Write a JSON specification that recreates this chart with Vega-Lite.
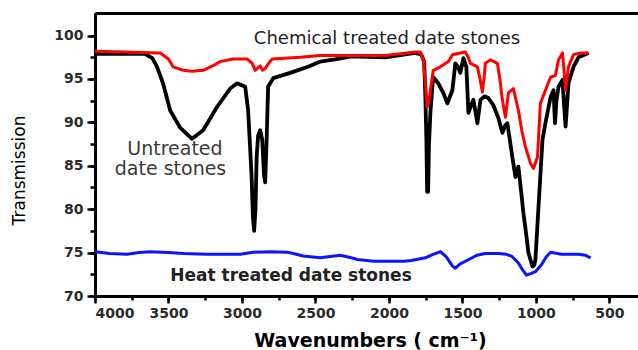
{
  "$schema": "https://vega.github.io/schema/vega-lite/v6.json",
  "width": 543,
  "height": 283,
  "autosize": {"type": "none"},
  "padding": {"left": 95, "top": 13, "right": 0, "bottom": 54},
  "background": "white",
  "config": {
    "view": {"stroke": null},
    "axis": {"grid": false, "domainColor": "black", "tickColor": "black", "domainWidth": 3, "tickWidth": 2.5, "labelFont": "DejaVu Sans", "labelFontWeight": "bold", "labelFontSize": 14, "labelColor": "#2b2b2b", "titleColor": "black"}
  },
  "datasets": {
    "spectra": [
      {"s":"Heat","w":4000,"t":75.1},{"s":"Heat","w":3900,"t":74.9},{"s":"Heat","w":3782,"t":74.8},{"s":"Heat","w":3700,"t":75.0},{"s":"Heat","w":3625,"t":75.1},{"s":"Heat","w":3500,"t":75.0},{"s":"Heat","w":3400,"t":74.9},{"s":"Heat","w":3237,"t":74.8},{"s":"Heat","w":3100,"t":74.8},{"s":"Heat","w":3012,"t":74.8},{"s":"Heat","w":2924,"t":75.05},{"s":"Heat","w":2800,"t":75.1},{"s":"Heat","w":2692,"t":75.05},{"s":"Heat","w":2630,"t":74.8},{"s":"Heat","w":2583,"t":74.6},{"s":"Heat","w":2467,"t":74.4},{"s":"Heat","w":2331,"t":74.7},{"s":"Heat","w":2256,"t":74.4},{"s":"Heat","w":2215,"t":74.2},{"s":"Heat","w":2100,"t":74.0},{"s":"Heat","w":2025,"t":74.0},{"s":"Heat","w":1900,"t":74.0},{"s":"Heat","w":1847,"t":74.1},{"s":"Heat","w":1752,"t":74.4},{"s":"Heat","w":1700,"t":74.8},{"s":"Heat","w":1650,"t":75.1},{"s":"Heat","w":1609,"t":74.5},{"s":"Heat","w":1570,"t":73.5},{"s":"Heat","w":1548,"t":73.2},{"s":"Heat","w":1515,"t":73.7},{"s":"Heat","w":1480,"t":74.0},{"s":"Heat","w":1400,"t":74.7},{"s":"Heat","w":1344,"t":74.9},{"s":"Heat","w":1255,"t":74.9},{"s":"Heat","w":1200,"t":74.8},{"s":"Heat","w":1166,"t":74.6},{"s":"Heat","w":1119,"t":73.8},{"s":"Heat","w":1090,"t":73.0},{"s":"Heat","w":1064,"t":72.4},{"s":"Heat","w":1030,"t":72.6},{"s":"Heat","w":1003,"t":72.8},{"s":"Heat","w":962,"t":73.6},{"s":"Heat","w":930,"t":74.5},{"s":"Heat","w":900,"t":75.05},{"s":"Heat","w":826,"t":74.8},{"s":"Heat","w":750,"t":74.8},{"s":"Heat","w":710,"t":74.8},{"s":"Heat","w":664,"t":74.7},{"s":"Heat","w":628,"t":74.4},

      {"s":"Untreated","w":4000,"t":97.9},{"s":"Untreated","w":3800,"t":97.9},{"s":"Untreated","w":3660,"t":97.9},{"s":"Untreated","w":3610,"t":97.4},{"s":"Untreated","w":3578,"t":96.4},{"s":"Untreated","w":3537,"t":94.5},{"s":"Untreated","w":3489,"t":91.4},{"s":"Untreated","w":3421,"t":89.4},{"s":"Untreated","w":3340,"t":88.1},{"s":"Untreated","w":3264,"t":89.1},{"s":"Untreated","w":3169,"t":91.8},{"s":"Untreated","w":3080,"t":93.9},{"s":"Untreated","w":3033,"t":94.5},{"s":"Untreated","w":2978,"t":94.1},{"s":"Untreated","w":2958,"t":91.4},{"s":"Untreated","w":2935,"t":84.0},{"s":"Untreated","w":2925,"t":79.0},{"s":"Untreated","w":2917,"t":77.5},{"s":"Untreated","w":2908,"t":80.0},{"s":"Untreated","w":2900,"t":86.0},{"s":"Untreated","w":2890,"t":88.5},{"s":"Untreated","w":2876,"t":89.1},{"s":"Untreated","w":2862,"t":88.0},{"s":"Untreated","w":2850,"t":84.0},{"s":"Untreated","w":2842,"t":83.1},{"s":"Untreated","w":2832,"t":88.0},{"s":"Untreated","w":2822,"t":94.1},{"s":"Untreated","w":2787,"t":95.1},{"s":"Untreated","w":2672,"t":95.7},{"s":"Untreated","w":2550,"t":96.4},{"s":"Untreated","w":2467,"t":97.0},{"s":"Untreated","w":2356,"t":97.3},{"s":"Untreated","w":2256,"t":97.6},{"s":"Untreated","w":2025,"t":97.5},{"s":"Untreated","w":1900,"t":97.8},{"s":"Untreated","w":1820,"t":98.0},{"s":"Untreated","w":1779,"t":97.8},{"s":"Untreated","w":1760,"t":97.0},{"s":"Untreated","w":1752,"t":93.0},{"s":"Untreated","w":1745,"t":88.0},{"s":"Untreated","w":1740,"t":82.0},{"s":"Untreated","w":1733,"t":82.0},{"s":"Untreated","w":1728,"t":87.2},{"s":"Untreated","w":1718,"t":91.0},{"s":"Untreated","w":1705,"t":94.0},{"s":"Untreated","w":1698,"t":95.2},{"s":"Untreated","w":1664,"t":94.5},{"s":"Untreated","w":1630,"t":93.4},{"s":"Untreated","w":1602,"t":92.2},{"s":"Untreated","w":1568,"t":93.7},{"s":"Untreated","w":1548,"t":96.8},{"s":"Untreated","w":1530,"t":96.4},{"s":"Untreated","w":1514,"t":95.7},{"s":"Untreated","w":1493,"t":97.4},{"s":"Untreated","w":1473,"t":96.4},{"s":"Untreated","w":1459,"t":91.1},{"s":"Untreated","w":1440,"t":92.0},{"s":"Untreated","w":1425,"t":92.6},{"s":"Untreated","w":1398,"t":89.9},{"s":"Untreated","w":1377,"t":92.6},{"s":"Untreated","w":1350,"t":93.0},{"s":"Untreated","w":1323,"t":92.8},{"s":"Untreated","w":1290,"t":92.0},{"s":"Untreated","w":1255,"t":90.5},{"s":"Untreated","w":1228,"t":88.8},{"s":"Untreated","w":1210,"t":89.6},{"s":"Untreated","w":1194,"t":89.9},{"s":"Untreated","w":1160,"t":86.0},{"s":"Untreated","w":1139,"t":83.7},{"s":"Untreated","w":1119,"t":84.9},{"s":"Untreated","w":1100,"t":82.0},{"s":"Untreated","w":1085,"t":79.6},{"s":"Untreated","w":1065,"t":77.0},{"s":"Untreated","w":1051,"t":75.0},{"s":"Untreated","w":1023,"t":73.4},{"s":"Untreated","w":1010,"t":73.6},{"s":"Untreated","w":1003,"t":74.2},{"s":"Untreated","w":982,"t":80.3},{"s":"Untreated","w":955,"t":88.0},{"s":"Untreated","w":935,"t":89.9},{"s":"Untreated","w":900,"t":92.9},{"s":"Untreated","w":880,"t":93.7},{"s":"Untreated","w":870,"t":89.9},{"s":"Untreated","w":860,"t":92.5},{"s":"Untreated","w":846,"t":94.1},{"s":"Untreated","w":819,"t":94.9},{"s":"Untreated","w":808,"t":92.0},{"s":"Untreated","w":798,"t":89.5},{"s":"Untreated","w":788,"t":92.0},{"s":"Untreated","w":778,"t":94.5},{"s":"Untreated","w":744,"t":96.4},{"s":"Untreated","w":710,"t":97.5},{"s":"Untreated","w":642,"t":98.0},

      {"s":"Chemical","w":4000,"t":98.2},{"s":"Chemical","w":3800,"t":98.1},{"s":"Chemical","w":3557,"t":98.0},{"s":"Chemical","w":3500,"t":97.3},{"s":"Chemical","w":3469,"t":96.4},{"s":"Chemical","w":3400,"t":96.0},{"s":"Chemical","w":3340,"t":95.9},{"s":"Chemical","w":3264,"t":96.0},{"s":"Chemical","w":3200,"t":96.5},{"s":"Chemical","w":3149,"t":97.0},{"s":"Chemical","w":3060,"t":97.3},{"s":"Chemical","w":2965,"t":97.3},{"s":"Chemical","w":2930,"t":96.8},{"s":"Chemical","w":2910,"t":96.0},{"s":"Chemical","w":2890,"t":96.3},{"s":"Chemical","w":2876,"t":96.5},{"s":"Chemical","w":2860,"t":96.0},{"s":"Chemical","w":2842,"t":96.2},{"s":"Chemical","w":2815,"t":96.9},{"s":"Chemical","w":2794,"t":97.3},{"s":"Chemical","w":2603,"t":97.5},{"s":"Chemical","w":2467,"t":97.7},{"s":"Chemical","w":2256,"t":97.7},{"s":"Chemical","w":2025,"t":97.7},{"s":"Chemical","w":1820,"t":98.1},{"s":"Chemical","w":1786,"t":98.1},{"s":"Chemical","w":1766,"t":97.2},{"s":"Chemical","w":1752,"t":94.5},{"s":"Chemical","w":1739,"t":91.8},{"s":"Chemical","w":1728,"t":92.5},{"s":"Chemical","w":1718,"t":93.7},{"s":"Chemical","w":1698,"t":96.0},{"s":"Chemical","w":1650,"t":96.4},{"s":"Chemical","w":1595,"t":97.0},{"s":"Chemical","w":1568,"t":97.8},{"s":"Chemical","w":1514,"t":98.0},{"s":"Chemical","w":1480,"t":98.1},{"s":"Chemical","w":1460,"t":97.5},{"s":"Chemical","w":1446,"t":96.8},{"s":"Chemical","w":1420,"t":96.6},{"s":"Chemical","w":1398,"t":96.4},{"s":"Chemical","w":1380,"t":95.0},{"s":"Chemical","w":1364,"t":93.5},{"s":"Chemical","w":1350,"t":95.5},{"s":"Chemical","w":1344,"t":96.8},{"s":"Chemical","w":1310,"t":97.2},{"s":"Chemical","w":1262,"t":96.8},{"s":"Chemical","w":1245,"t":95.0},{"s":"Chemical","w":1228,"t":92.6},{"s":"Chemical","w":1207,"t":90.6},{"s":"Chemical","w":1187,"t":93.4},{"s":"Chemical","w":1153,"t":93.9},{"s":"Chemical","w":1119,"t":91.4},{"s":"Chemical","w":1095,"t":89.0},{"s":"Chemical","w":1071,"t":87.2},{"s":"Chemical","w":1037,"t":85.3},{"s":"Chemical","w":1016,"t":84.7},{"s":"Chemical","w":989,"t":86.0},{"s":"Chemical","w":969,"t":92.2},{"s":"Chemical","w":935,"t":93.7},{"s":"Chemical","w":900,"t":95.2},{"s":"Chemical","w":867,"t":95.4},{"s":"Chemical","w":846,"t":97.2},{"s":"Chemical","w":819,"t":98.0},{"s":"Chemical","w":808,"t":96.0},{"s":"Chemical","w":798,"t":93.7},{"s":"Chemical","w":778,"t":96.4},{"s":"Chemical","w":744,"t":97.8},{"s":"Chemical","w":697,"t":98.0},{"s":"Chemical","w":642,"t":98.0}
    ],
    "labels": [
      {"k":"chem","label":"Chemical treated date stones","w":2013,"t":99.0},
      {"k":"untr","label":"Untreated","w":3456,"t":86.25},
      {"k":"untr","label":"date stones","w":3486,"t":83.94},
      {"k":"heat","label":"Heat treated date stones","w":2666,"t":71.76}
    ]
  },
  "layer": [
    {
      "data": {"name": "spectra"},
      "transform": [{"filter": "datum.s === 'Heat'"}],
      "mark": {"type": "line", "color": "#0a14ff", "strokeWidth": 3, "strokeJoin": "round"},
      "encoding": {
        "x": {"field": "w", "type": "quantitative", "scale": {"domain": [4000, 305], "nice": false, "zero": false},
          "axis": {"orient": "bottom", "values": [4000,3750,3500,3250,3000,2750,2500,2250,2000,1750,1500,1250,1000,750,500], "tickSize": 4, "labels": false, "title": null, "domain": true}},
        "y": {"field": "t", "type": "quantitative", "scale": {"domain": [70, 102.6], "nice": false, "zero": false},
          "axis": {"orient": "left", "values": [70,72.5,75,77.5,80,82.5,85,87.5,90,92.5,95,97.5,100], "tickSize": 5, "labels": false, "title": null, "domain": true}}
      }
    },
    {
      "data": {"name": "spectra"},
      "transform": [{"filter": "datum.s === 'Untreated'"}],
      "mark": {"type": "line", "color": "#000000", "strokeWidth": 3.8, "strokeJoin": "round"},
      "encoding": {
        "x": {"field": "w", "type": "quantitative", "scale": {"domain": [4000, 305], "nice": false, "zero": false},
          "axis": {"orient": "bottom", "values": [4000,3500,3000,2500,2000,1500,1000,500], "format": "d", "tickSize": 7, "labelPadding": 3,
            "title": "Wavenumbers ( cm⁻¹)", "titleFont": "DejaVu Sans", "titleFontWeight": "bold", "titleFontSize": 19,
            "titleX": 275, "titleY": 50, "titleBaseline": "alphabetic", "titleAlign": "center"}},
        "y": {"field": "t", "type": "quantitative", "scale": {"domain": [70, 102.6], "nice": false, "zero": false},
          "axis": {"orient": "left", "values": [70,75,80,85,90,95,100], "format": "d", "tickSize": 8, "labelPadding": 4,
            "title": "Transmission", "titleFont": "DejaVu Sans", "titleFontWeight": "normal", "titleFontSize": 17,
            "titleX": -76, "titleY": 157, "titleAngle": -90, "titleBaseline": "middle", "titleAlign": "center"}}
      }
    },
    {
      "data": {"name": "spectra"},
      "transform": [{"filter": "datum.s === 'Chemical'"}],
      "mark": {"type": "line", "color": "#ff0000", "strokeWidth": 3, "strokeJoin": "round"},
      "encoding": {
        "x": {"field": "w", "type": "quantitative", "scale": {"domain": [4000, 305], "nice": false, "zero": false},
          "axis": {"orient": "top", "ticks": false, "labels": false, "title": null, "domain": true}},
        "y": {"field": "t", "type": "quantitative", "scale": {"domain": [70, 102.6], "nice": false, "zero": false}, "axis": null}
      }
    },
    {
      "data": {"name": "labels"},
      "transform": [{"filter": "datum.k === 'chem'"}],
      "mark": {"type": "text", "font": "DejaVu Sans", "fontSize": 18, "color": "#222222", "align": "center", "baseline": "alphabetic"},
      "encoding": {
        "x": {"field": "w", "type": "quantitative", "scale": {"domain": [4000, 305], "nice": false, "zero": false}, "axis": null},
        "y": {"field": "t", "type": "quantitative", "scale": {"domain": [70, 102.6], "nice": false, "zero": false}, "axis": null},
        "text": {"field": "label"}
      }
    },
    {
      "data": {"name": "labels"},
      "transform": [{"filter": "datum.k === 'untr'"}],
      "mark": {"type": "text", "font": "DejaVu Sans", "fontSize": 19, "color": "#3a3a3a", "align": "center", "baseline": "alphabetic"},
      "encoding": {
        "x": {"field": "w", "type": "quantitative", "scale": {"domain": [4000, 305], "nice": false, "zero": false}, "axis": null},
        "y": {"field": "t", "type": "quantitative", "scale": {"domain": [70, 102.6], "nice": false, "zero": false}, "axis": null},
        "text": {"field": "label"}
      }
    },
    {
      "data": {"name": "labels"},
      "transform": [{"filter": "datum.k === 'heat'"}],
      "mark": {"type": "text", "font": "DejaVu Sans", "fontSize": 17, "fontWeight": "bold", "color": "#222222", "align": "center", "baseline": "alphabetic"},
      "encoding": {
        "x": {"field": "w", "type": "quantitative", "scale": {"domain": [4000, 305], "nice": false, "zero": false}, "axis": null},
        "y": {"field": "t", "type": "quantitative", "scale": {"domain": [70, 102.6], "nice": false, "zero": false}, "axis": null},
        "text": {"field": "label"}
      }
    }
  ],
  "resolve": {"axis": {"x": "independent", "y": "independent"}}
}
